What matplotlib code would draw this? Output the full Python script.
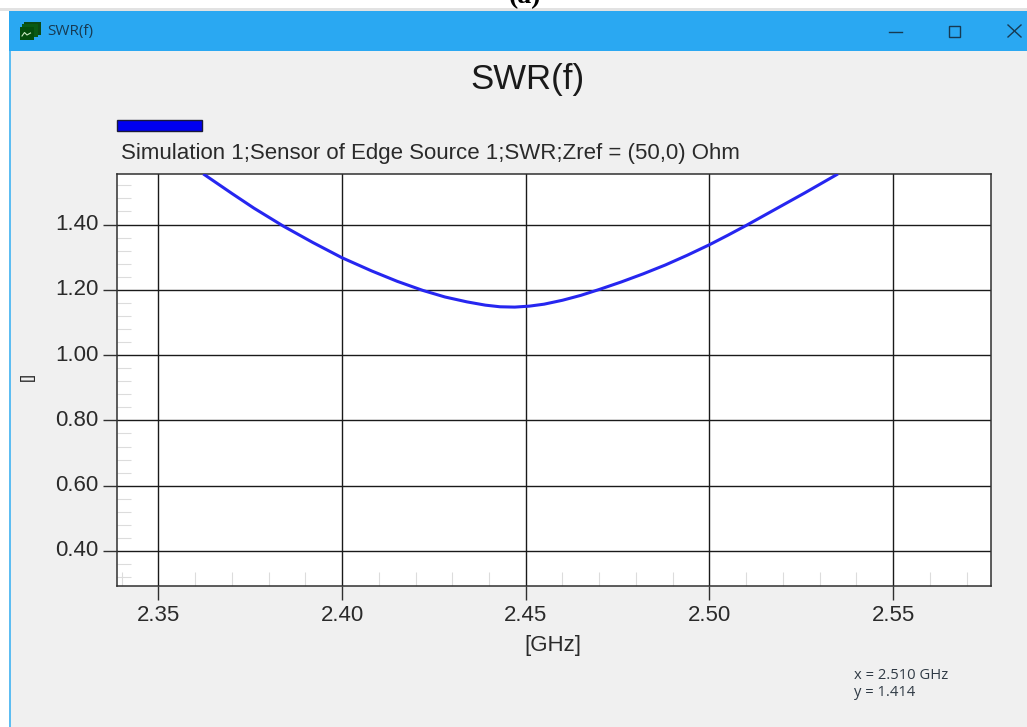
import matplotlib
matplotlib.use("Agg")
import matplotlib.pyplot as plt
from matplotlib.patches import Rectangle
from matplotlib.lines import Line2D
from matplotlib.ticker import MultipleLocator, FormatStrFormatter
from matplotlib.transforms import ScaledTranslation

freq_ghz = [2.3622, 2.370, 2.376, 2.384, 2.392, 2.400, 2.408, 2.415, 2.422, 2.428, 2.434,
            2.439, 2.443, 2.447, 2.451, 2.455, 2.460, 2.465, 2.470, 2.476, 2.482, 2.488,
            2.494, 2.500, 2.505, 2.510, 2.518, 2.526, 2.535]
swr = [1.555, 1.495, 1.450, 1.395, 1.345, 1.298, 1.258, 1.226, 1.198, 1.178, 1.163,
       1.153, 1.148, 1.147, 1.150, 1.156, 1.168, 1.183, 1.201, 1.224, 1.249, 1.276,
       1.306, 1.338, 1.367, 1.397, 1.447, 1.497, 1.555]
x_ticks = [2.35, 2.40, 2.45, 2.50, 2.55]
y_ticks = [0.40, 0.60, 0.80, 1.00, 1.20, 1.40]
chart_title = "SWR(f)"
legend_text = "Simulation 1;Sensor of Edge Source 1;SWR;Zref = (50,0) Ohm"
x_label = "[GHz]"
y_label = "[]"
readout = "x = 2.510 GHz\ny = 1.414"

W, H = 1027, 727
plt.rcParams["font.family"] = ["Liberation Sans", "DejaVu Sans"]
fig = plt.figure(figsize=(W / 100, H / 100), dpi=100, facecolor="white")

def fx(px): return px / W
def fy(py): return 1 - py / H

def rect(x0, y0, x1, y1, fc, ec="none", lw=0, z=0):
    fig.add_artist(Rectangle((fx(x0), fy(y1)), (x1 - x0) / W, (y1 - y0) / H,
                             transform=fig.transFigure, fc=fc, ec=ec, lw=lw, zorder=z))

def seg(xs, ys, color, lw=1.2, z=3):
    fig.add_artist(Line2D([fx(v) for v in xs], [fy(v) for v in ys],
                          transform=fig.transFigure, color=color, lw=lw, zorder=z))

# window chrome
rect(0, 8.5, W, 11, "#E2E2E2")
rect(9, 11, W, H, "#F0F0F0")
rect(9, 11, 10.5, H, "#5DBDF2", z=1)
rect(9, 11, W, 50.5, "#2AA8F2", z=1)
rect(24, 22.5, 40.5, 35, "#0B4A12", z=2)
rect(22, 24.5, 38, 37, "#0A5A14", z=3)
rect(19.5, 27, 34, 40, "#044D0B", z=4)
seg([22, 24.5, 27, 30.5], [36, 32.5, 35, 33], "#C8E8C0", 0.8, z=5)
fig.text(fx(47), fy(31.5), "SWR(f)", fontsize=11, family=["Open Sans", "DejaVu Sans"],
         color="#173A52", va="center", ha="left")
seg([889, 902], [31.5, 31.5], "#173A52", 1.0)
rect(949, 25.5, 960, 37, "none", ec="#173A52", lw=1.0, z=3)
seg([1008, 1021], [25, 37], "#173A52", 1.0)
seg([1008, 1021], [37, 25], "#173A52", 1.0)
fig.text(fx(525), fy(-3), "(a)", fontsize=20, family=["Liberation Serif"], weight="bold",
         color="black", va="center", ha="center")

# headings
fig.text(fx(527.5), fy(80), chart_title, fontsize=25, color="#1A1A1A", ha="center", va="center")
rect(117, 120, 201.5, 131, "#0000F0", ec="#1A1A3A", lw=1.0, z=2)
fig.text(fx(121), fy(153.5), legend_text, fontsize=16, color="#2A2A2A", ha="left", va="center")

# axes
ax = fig.add_axes([fx(117), fy(586), (991 - 117) / W, (586 - 174) / H], facecolor="white")
px_per_x = (893 - 158) / 0.20
px_per_y = (551 - 224.5) / 1.0
ax.set_xlim(2.35 - (158.5 - 117) / px_per_x, 2.55 + (991 - 893) / px_per_x)
ax.set_ylim(0.40 - (586 - 551) / px_per_y, 1.40 + (224.5 - 174) / px_per_y)

ax.plot(freq_ghz, swr, color="#2626F0", lw=2.2, solid_capstyle="butt", zorder=4)

ax.set_xticks(x_ticks)
ax.set_yticks(y_ticks)
ax.xaxis.set_major_formatter(FormatStrFormatter("%.2f"))
ax.yaxis.set_major_formatter(FormatStrFormatter("%.2f"))
ax.xaxis.set_minor_locator(MultipleLocator(0.01))
ax.yaxis.set_minor_locator(MultipleLocator(0.04))
ax.grid(True, which="major", color="#1A1A1A", lw=1.0, zorder=1)
ax.set_axisbelow(True)
ax.tick_params(axis="both", which="major", length=10, width=1.0, color="#303030",
               labelsize=16, labelcolor="#2A2A2A", pad=3.5)
ax.tick_params(axis="both", which="minor", direction="in", length=10, width=0.8, color="#DCDCDC")
for s in ax.spines.values():
    s.set_color("#303030")
    s.set_linewidth(1.1)

# the y tick labels sit slightly above their ticks in the reference
shift_up = ScaledTranslation(0, 2.5 / 100, fig.dpi_scale_trans)
for label in ax.get_yticklabels():
    label.set_transform(label.get_transform() + shift_up)

fig.text(fx(553), fy(645.5), x_label, fontsize=16, color="#2A2A2A", ha="center", va="center")
fig.text(fx(27), fy(376), y_label, fontsize=12, color="#2A2A2A", ha="center", va="center", rotation=90)
fig.text(fx(854), fy(684), readout, fontsize=10.6, family=["Open Sans", "DejaVu Sans"],
         color="#2F3A45", ha="left", va="center", linespacing=1.2)

fig.savefig("out.png", dpi=100, facecolor=fig.get_facecolor())
